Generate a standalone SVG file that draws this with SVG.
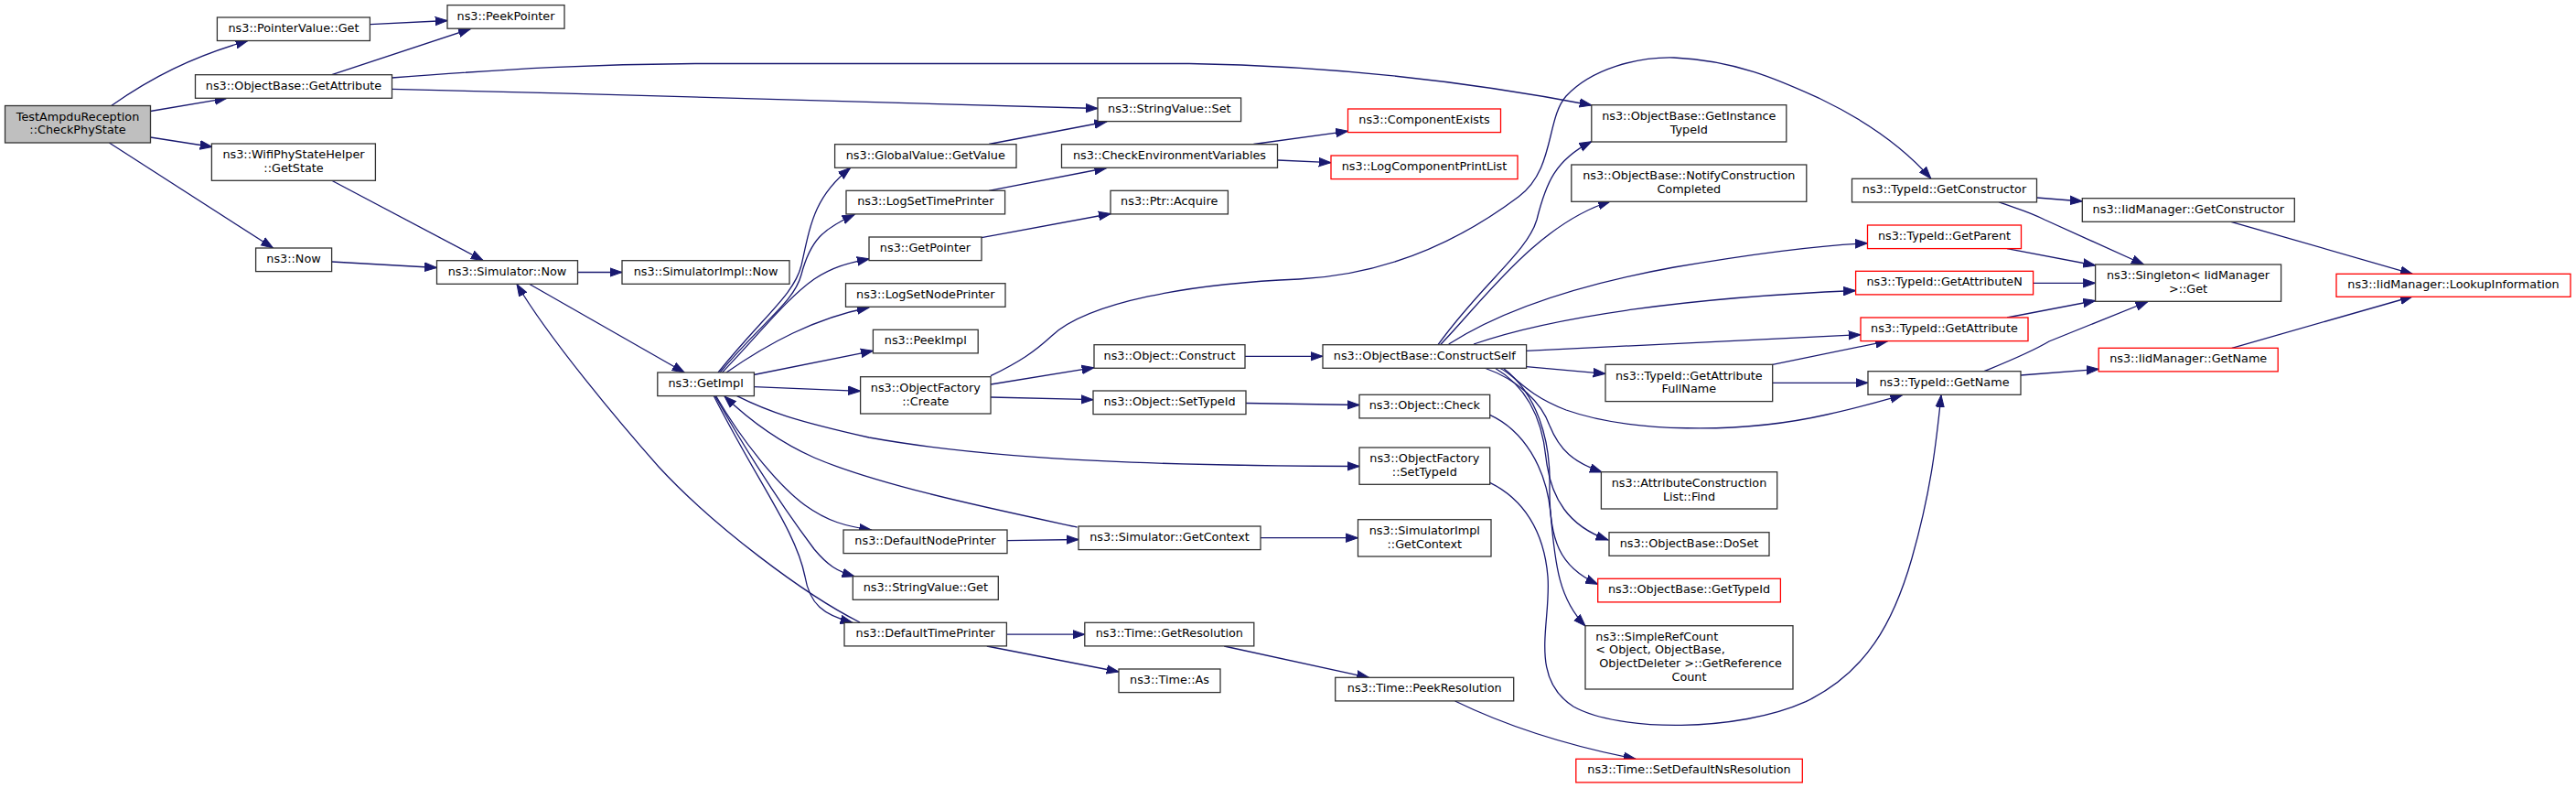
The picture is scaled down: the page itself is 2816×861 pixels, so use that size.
<svg xmlns="http://www.w3.org/2000/svg" width="2816" height="861" viewBox="0 0 2816 861">
<style>
.n rect{fill:#ffffff;stroke:#333333;stroke-width:1.3}
.r rect{fill:#ffffff;stroke:#ff0000;stroke-width:1.3}
.g rect{fill:#bfbfbf;stroke:#333333;stroke-width:1.3}
text{font-family:"DejaVu Sans",Verdana,sans-serif;font-size:12.8px;fill:#000000;text-anchor:middle}
text.l{text-anchor:start}
#edges path{fill:none;stroke:#191970;stroke-width:1.3;marker-end:url(#arr)}
</style>
<defs>
<marker id="arr" markerUnits="userSpaceOnUse" markerWidth="15" markerHeight="11" refX="13.3" refY="5" orient="auto" viewBox="0 0 15 10"><path d="M0,0.3L13.3,5L0,9.7z" fill="#191970" stroke="#191970" stroke-width="1"/></marker>
</defs>
<rect width="2816" height="861" fill="#ffffff"/>
<g id="edges">
<path d="M121.7,115.5 C165,85 210,62 271,44.5"/>
<path d="M164.4,121.5 L248,107.3"/>
<path d="M164.4,150 L232,160.5"/>
<path d="M119.4,156 L298.5,271"/>
<path d="M404.5,26.7 L489,22.5"/>
<path d="M362.7,81.7 L514.3,31.6"/>
<path d="M428.4,85 C560,75 650,70 760,69.5 L1300,69.5 C1450,72 1600,88 1740,115"/>
<path d="M428.4,97.3 C700,104 1000,112 1200,118.5"/>
<path d="M362.7,197.3 L528,284.5"/>
<path d="M362.7,286 L477.5,292.5"/>
<path d="M631.4,297.5 L680,297.5"/>
<path d="M578.5,310.3 L748.2,407"/>
<path d="M940,680 C880,650 780,575 720,510 C680,465 600,370 565,310.5"/>
<path d="M785,407 C835,345 868,322 876,290 C886,245 890,215 929.6,183.5"/>
<path d="M787,407 C835,350 868,330 876,300 C886,262 900,250 934,234.5"/>
<path d="M789.5,407 C830,365 860,326 890,305 C910,292 925,288 950.3,282.7"/>
<path d="M794,407 C840,375 890,348 950,336"/>
<path d="M824,409.5 L954.4,383.3"/>
<path d="M824.4,422.7 L940.6,427.3"/>
<path d="M782.7,432.7 C810,480 850,530 880,552 C905,570 925,575 952.5,579"/>
<path d="M781.7,432.7 C820,500 860,560 890,600 C905,618 915,624 934,629.7"/>
<path d="M780.4,432.7 C830,530 870,580 880,630 C885,660 900,672 932,680.3"/>
<path d="M805.6,432.7 C840,450 870,460 950,478 C1100,505 1300,509 1486,509.5"/>
<path d="M1177.5,576 C1080,555 960,530 890,500 C845,480 815,455 792,433"/>
<path d="M1083,420 L1196,401.7"/>
<path d="M1083,434 L1195,436.7"/>
<path d="M1083,410.7 C1115,395 1130,385 1150,366.7 C1190,330 1300,310 1420,305 C1520,300 1600,260 1660,215 C1700,185 1690,130 1712,105 C1740,75 1790,62 1830,63 C1900,66 1950,90 1990,108 C2040,132 2080,160 2110.8,195"/>
<path d="M1361,389.3 L1446,389.3"/>
<path d="M1362,440.5 L1486,442.5"/>
<path d="M1100.9,590.7 L1179,589.5"/>
<path d="M1378,587.7 L1484.5,587.7"/>
<path d="M1100.4,693.2 L1185.8,693.2"/>
<path d="M1078.8,706 L1223,734"/>
<path d="M1338.2,706 L1496.4,740.3"/>
<path d="M1590.6,766 C1640,790 1700,812 1788,829.3"/>
<path d="M1081,157.5 L1209.7,133"/>
<path d="M1081,208.3 L1209.7,183.5"/>
<path d="M1072.9,259.7 L1214.3,233.5"/>
<path d="M1370.4,157.5 L1473.5,143.3"/>
<path d="M1396.6,175 L1455,177.7"/>
<path d="M1572,376.7 C1620,310 1670,275 1680,240 C1690,200 1700,175 1739.8,154.7"/>
<path d="M1574.5,376.7 C1620,330 1680,245 1760.4,220"/>
<path d="M1583.7,376 C1640,340 1720,312 1830,292 C1930,275 1990,268 2041.5,265.7"/>
<path d="M1611,376 C1700,345 1850,325 2028.6,317.5"/>
<path d="M1668.6,383.3 L2034,365.7"/>
<path d="M1668.6,400.7 L1755,408.3"/>
<path d="M1638.8,402 C1655,408 1665,430 1712,448 C1780,472 1900,475 1997,453 C2030,446 2050,440 2079.6,431.7"/>
<path d="M1622.7,402 C1660,415 1685,440 1694,465 C1705,492 1720,505 1751.3,516"/>
<path d="M1634,402 C1665,420 1685,450 1690,500 C1695,545 1715,575 1758,590"/>
<path d="M1643,402 C1680,430 1695,480 1694,530 C1693,590 1705,620 1746.7,638.3"/>
<path d="M1628.7,453.3 C1665,470 1690,510 1695,560 C1700,620 1705,655 1733,684"/>
<path d="M1628.7,527.3 C1665,545 1688,580 1692,630 C1696,680 1670,740 1720,772 C1770,800 1900,800 1974,766.7 C2040,735 2070,680 2090,610 C2110,540 2116,490 2122,431.7"/>
<path d="M2226.7,216 L2276.3,220"/>
<path d="M2185,220.7 C2205,228 2220,232 2235,240 L2343.4,289"/>
<path d="M2194,271.7 L2290.6,290"/>
<path d="M2222.6,309.3 L2290.6,309.3"/>
<path d="M2194,347 L2290.6,328.5"/>
<path d="M2168.9,405.7 C2195,395 2220,385 2240,373 L2348,329.5"/>
<path d="M2208.8,410 L2294.2,403.3"/>
<path d="M1937.7,398.3 L2063.5,372.7"/>
<path d="M1937.7,418.3 L2042,418.3"/>
<path d="M2438.9,242.3 L2637.2,299.3"/>
<path d="M2439.8,380.3 L2637.2,324"/>
</g>
<g id="node1" class="g"><rect x="5.5" y="115.5" width="159" height="40.5"/><text x="85" y="131.7">TestAmpduReception</text><text x="85" y="146.3">::CheckPhyState</text></g>
<g id="node2" class="n"><rect x="237.4" y="19" width="167" height="25.5"/><text x="321" y="35">ns3::PointerValue::Get</text></g>
<g id="node3" class="n"><rect x="489" y="5.6" width="128" height="25.6"/><text x="553" y="21.5">ns3::PeekPointer</text></g>
<g id="node4" class="n"><rect x="213.5" y="81.7" width="215" height="25.6"/><text x="321" y="97.7">ns3::ObjectBase::GetAttribute</text></g>
<g id="node5" class="n"><rect x="231.4" y="157" width="179" height="40.3"/><text x="321" y="173.3">ns3::WifiPhyStateHelper</text><text x="321" y="188">::GetState</text></g>
<g id="node6" class="n"><rect x="279.6" y="271" width="83" height="25.6"/><text x="321" y="287">ns3::Now</text></g>
<g id="node7" class="n"><rect x="477.5" y="284.7" width="154" height="25.6"/><text x="554.5" y="300.7">ns3::Simulator::Now</text></g>
<g id="node8" class="n"><rect x="680" y="284.7" width="183" height="25.6"/><text x="771.5" y="300.7">ns3::SimulatorImpl::Now</text></g>
<g id="node9" class="n"><rect x="1200" y="107" width="156.6" height="25.6"/><text x="1278.3" y="123">ns3::StringValue::Set</text></g>
<g id="node10" class="n"><rect x="912.6" y="157.7" width="198.4" height="25.6"/><text x="1011.8" y="173.7">ns3::GlobalValue::GetValue</text></g>
<g id="node11" class="n"><rect x="1160.5" y="157.7" width="236" height="25.6"/><text x="1278.5" y="173.7">ns3::CheckEnvironmentVariables</text></g>
<g id="node12" class="n"><rect x="925" y="208.3" width="173.6" height="25.6"/><text x="1011.8" y="224.3">ns3::LogSetTimePrinter</text></g>
<g id="node13" class="n"><rect x="1214" y="208.3" width="128.4" height="25.6"/><text x="1278.2" y="224.3">ns3::Ptr::Acquire</text></g>
<g id="node14" class="n"><rect x="950" y="259" width="123" height="25.6"/><text x="1011.5" y="275">ns3::GetPointer</text></g>
<g id="node15" class="n"><rect x="924.5" y="309.7" width="174.5" height="25.6"/><text x="1011.8" y="325.7">ns3::LogSetNodePrinter</text></g>
<g id="node16" class="n"><rect x="954.4" y="360.3" width="114.8" height="25.6"/><text x="1011.8" y="376.3">ns3::PeekImpl</text></g>
<g id="node17" class="n"><rect x="718.8" y="407" width="105.6" height="25.6"/><text x="771.6" y="423">ns3::GetImpl</text></g>
<g id="node18" class="n"><rect x="940.6" y="411.7" width="142.4" height="40.3"/><text x="1011.8" y="428">ns3::ObjectFactory</text><text x="1011.8" y="442.7">::Create</text></g>
<g id="node19" class="n"><rect x="1196" y="376.7" width="165" height="25.6"/><text x="1278.5" y="392.7">ns3::Object::Construct</text></g>
<g id="node20" class="n"><rect x="1195" y="427" width="167" height="25.6"/><text x="1278.5" y="443">ns3::Object::SetTypeId</text></g>
<g id="node21" class="n"><rect x="922" y="579" width="179" height="25.6"/><text x="1011.5" y="595">ns3::DefaultNodePrinter</text></g>
<g id="node22" class="n"><rect x="1179" y="575" width="199" height="25.6"/><text x="1278.5" y="591">ns3::Simulator::GetContext</text></g>
<g id="node23" class="n"><rect x="932.3" y="629.7" width="159" height="25.6"/><text x="1011.8" y="645.7">ns3::StringValue::Get</text></g>
<g id="node24" class="n"><rect x="923" y="680.3" width="177.4" height="25.6"/><text x="1011.7" y="696.3">ns3::DefaultTimePrinter</text></g>
<g id="node25" class="n"><rect x="1185.8" y="680.3" width="185" height="25.6"/><text x="1278.3" y="696.3">ns3::Time::GetResolution</text></g>
<g id="node26" class="n"><rect x="1223" y="731" width="111" height="25.6"/><text x="1278.5" y="747">ns3::Time::As</text></g>
<g id="node27" class="r"><rect x="1473.5" y="119" width="167" height="25.6"/><text x="1557" y="135">ns3::ComponentExists</text></g>
<g id="node28" class="r"><rect x="1455" y="170" width="204" height="25.6"/><text x="1557" y="186">ns3::LogComponentPrintList</text></g>
<g id="node29" class="n"><rect x="1739.8" y="114.7" width="213" height="40.3"/><text x="1846.3" y="131">ns3::ObjectBase::GetInstance</text><text x="1846.3" y="145.7">TypeId</text></g>
<g id="node30" class="n"><rect x="1717.8" y="180" width="257" height="40.3"/><text x="1846.3" y="196.3">ns3::ObjectBase::NotifyConstruction</text><text x="1846.3" y="211">Completed</text></g>
<g id="node31" class="n"><rect x="2024.5" y="195.3" width="202" height="25.6"/><text x="2125.5" y="211.3">ns3::TypeId::GetConstructor</text></g>
<g id="node32" class="r"><rect x="2041.5" y="246" width="168" height="25.6"/><text x="2125.5" y="262">ns3::TypeId::GetParent</text></g>
<g id="node33" class="r"><rect x="2028.6" y="296.3" width="194" height="25.6"/><text x="2125.6" y="312.3">ns3::TypeId::GetAttributeN</text></g>
<g id="node34" class="r"><rect x="2034" y="347" width="183" height="25.6"/><text x="2125.5" y="363">ns3::TypeId::GetAttribute</text></g>
<g id="node35" class="n"><rect x="1446" y="376.7" width="222.6" height="25.6"/><text x="1557.3" y="392.7">ns3::ObjectBase::ConstructSelf</text></g>
<g id="node36" class="n"><rect x="1755" y="398.3" width="182.7" height="40.3"/><text x="1846.3" y="414.6">ns3::TypeId::GetAttribute</text><text x="1846.3" y="429.3">FullName</text></g>
<g id="node37" class="n"><rect x="2042" y="405.7" width="167" height="25.6"/><text x="2125.5" y="421.7">ns3::TypeId::GetName</text></g>
<g id="node38" class="n"><rect x="1486" y="431.3" width="142.7" height="25.6"/><text x="1557.3" y="447.3">ns3::Object::Check</text></g>
<g id="node39" class="n"><rect x="1486" y="489" width="142.7" height="40.3"/><text x="1557.3" y="505.3">ns3::ObjectFactory</text><text x="1557.3" y="520">::SetTypeId</text></g>
<g id="node40" class="n"><rect x="1484.5" y="567.7" width="145.5" height="40.3"/><text x="1557.3" y="584">ns3::SimulatorImpl</text><text x="1557.3" y="598.7">::GetContext</text></g>
<g id="node41" class="n"><rect x="1459.7" y="740.3" width="195" height="25.6"/><text x="1557.2" y="756.3">ns3::Time::PeekResolution</text></g>
<g id="node42" class="n"><rect x="1750.4" y="515.7" width="192.3" height="40.3"/><text x="1846.5" y="532">ns3::AttributeConstruction</text><text x="1846.5" y="546.7">List::Find</text></g>
<g id="node43" class="n"><rect x="1759" y="581.7" width="175" height="25.6"/><text x="1846.5" y="597.7">ns3::ObjectBase::DoSet</text></g>
<g id="node44" class="r"><rect x="1746.7" y="632.3" width="199.7" height="25.6"/><text x="1846.5" y="648.3">ns3::ObjectBase::GetTypeId</text></g>
<g id="node45" class="n"><rect x="1733" y="683.7" width="227" height="69.3"/><text class="l" x="1744.3" y="699.5">ns3::SimpleRefCount</text><text class="l" x="1744.3" y="714.2">&lt; Object, ObjectBase,</text><text class="l" x="1748.3" y="728.9">ObjectDeleter &gt;::GetReference</text><text x="1846.5" y="743.6">Count</text></g>
<g id="node46" class="r"><rect x="1722.8" y="829.3" width="247.5" height="25.6"/><text x="1846.5" y="845.3">ns3::Time::SetDefaultNsResolution</text></g>
<g id="node47" class="n"><rect x="2276.3" y="216.7" width="232" height="25.6"/><text x="2392.3" y="232.7">ns3::IidManager::GetConstructor</text></g>
<g id="node48" class="n"><rect x="2290.6" y="289" width="203" height="40.3"/><text x="2392" y="305.3">ns3::Singleton&lt; IidManager</text><text x="2392" y="320">&gt;::Get</text></g>
<g id="node49" class="r"><rect x="2554" y="299.3" width="256" height="25"/><text x="2682" y="315.3">ns3::IidManager::LookupInformation</text></g>
<g id="node50" class="r"><rect x="2294.2" y="380.3" width="196" height="25.6"/><text x="2392.2" y="396.3">ns3::IidManager::GetName</text></g>
</svg>
